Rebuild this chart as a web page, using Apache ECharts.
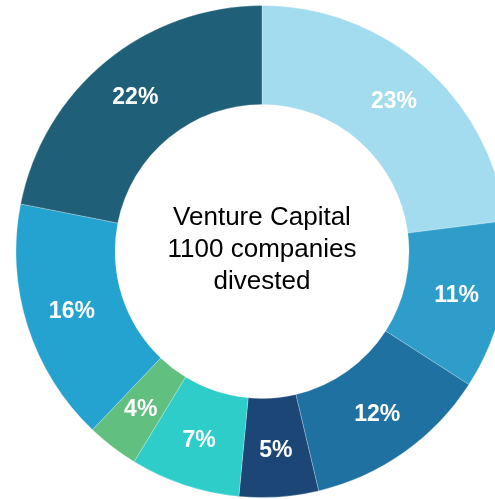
<!DOCTYPE html>
<html><head><meta charset="utf-8">
<script src="https://cdn.jsdelivr.net/npm/echarts@6/dist/echarts.min.js"></script>
<style>html,body{margin:0;padding:0;background:#fff}#c{width:495px;height:499px}</style>
</head><body><div id="c"></div>
<script>
const categories = ['A','B','C','D','E','F','G','H'];
const values = [23.0, 11.1, 12.2, 5.2, 7.2, 3.4, 16.0, 21.9];
const labels = ['23%','11%','12%','5%','7%','4%','16%','22%'];
const colors = ['#a3dcef','#2e9dca','#1e71a0','#1b4676','#2ecdc9','#61bf7f','#25a3d0','#1f6078'];
const centerLines = ['Venture Capital','1100 companies','divested'];

const chart = echarts.init(document.getElementById('c'));
chart.setOption({
  animation: false,
  graphic: [{
    type: 'text', x: 262, y: 250,
    style: {
      text: centerLines.join('\n'),
      font: '26px "Liberation Sans", Arial, sans-serif',
      lineHeight: 32, fill: '#000',
      textAlign: 'center', textVerticalAlign: 'middle'
    }
  }],
  series: [{
    type: 'pie',
    center: [262, 251.5],
    radius: [147, 246],
    startAngle: 90,
    clockwise: true,
    avoidLabelOverlap: false,
    itemStyle: { borderColor: 'rgba(255,255,255,0.5)', borderWidth: 0.5 },
    label: {
      show: true, position: 'inside',
      formatter: p => labels[p.dataIndex],
      color: '#fff', fontWeight: 'bold', fontSize: 23,
      fontFamily: '"Liberation Sans", Arial, sans-serif'
    },
    labelLine: { show: false },
    data: categories.map((c, i) => ({ name: c, value: values[i], itemStyle: { color: colors[i] } }))
  }]
});
</script></body></html>
